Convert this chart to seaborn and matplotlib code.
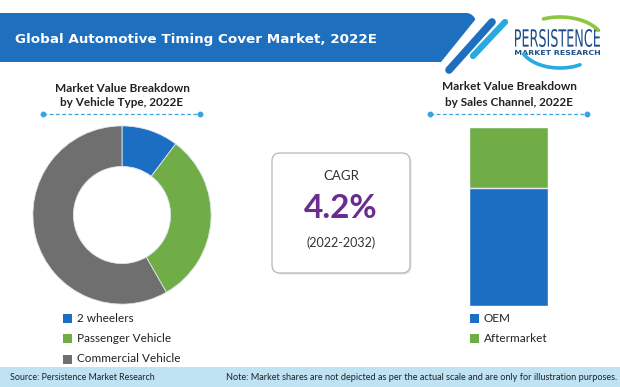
import matplotlib
matplotlib.use("Agg")
import matplotlib.pyplot as plt
import seaborn as sns
import pandas as pd
from matplotlib.patches import Polygon, Rectangle, FancyBboxPatch, PathPatch
from matplotlib.textpath import TextPath
from matplotlib.font_manager import FontProperties
from matplotlib.transforms import Affine2D
import numpy as np

# data
vehicle_types = ["2 wheelers", "Passenger Vehicle", "Commercial Vehicle"]
vehicle_share = [10.3, 31.4, 58.3]
channels = ["OEM", "Aftermarket"]
channel_share = [66, 34]
cagr_text = "4.2%"
cagr_period = "(2022-2032)"

blue = "#1b6ec2"
green = "#70ad47"
gray = "#6f6f6f"
band_blue = "#1f6fbf"
dot_blue = "#3aa3dc"

sns.set_theme(style="white")
plt.rcParams["font.family"] = ["Lato", "DejaVu Sans"]

fig = plt.figure(figsize=(6.2, 3.87), dpi=100)
fig.patch.set_facecolor("white")

# background axes in pixel coordinates
bg = fig.add_axes([0, 0, 1, 1], zorder=0)
bg.set_xlim(0, 620)
bg.set_ylim(387, 0)
bg.axis("off")

# header band
corner = [(466 + 10 * np.sin(t), 23 - 10 * np.cos(t)) for t in np.linspace(0, np.pi / 2.6, 8)]
band_pts = [(-2, 13)] + corner + [(441, 62), (-2, 62)]
bg.add_patch(Polygon(band_pts, closed=True, color=band_blue, lw=0))
bg.plot([449, 492], [70, 22], color=band_blue, lw=5.5, solid_capstyle="round")
bg.plot([473, 505], [56, 22], color="#2aa8e0", lw=4.5, solid_capstyle="round")
bg.text(15, 39, "Global Automotive Timing Cover Market, 2022E", color="white",
        fontsize=9.7, fontweight="bold", family="DejaVu Sans", va="center", ha="left")


# logo
def fit_text(s, x0, x1, y0, y1, color, weight="bold"):
    tp = TextPath((0, 0), s, size=1, prop=FontProperties(family="DejaVu Sans", weight=weight))
    ext = tp.get_extents()
    sx = (x1 - x0) / ext.width
    sy = (y1 - y0) / ext.height
    tr = Affine2D().translate(-ext.x0, -ext.y0).scale(sx, -sy).translate(x0, y1)
    bg.add_patch(PathPatch(tr.transform_path(tp), color=color, lw=0))


fit_text("PERSISTENCE", 515, 600, 29, 47, "#1d4f8c", weight="normal")
fit_text("MARKET RESEARCH", 515, 600, 50, 55, "#1d4f8c")
t = np.linspace(np.radians(112), np.radians(30), 40)
bg.plot(560 + 44 * np.cos(t), 43 - 26 * np.sin(t), color="#8dc63f", lw=2.6, solid_capstyle="round")
t = np.linspace(np.radians(205), np.radians(300), 40)
bg.plot(560 + 40 * np.cos(t), 44 - 24 * np.sin(t), color="#29abe2", lw=2.6, solid_capstyle="round")

# sub titles and dotted rules
bg.text(122, 88, "Market Value Breakdown", ha="center", va="center", fontsize=8.5,
        fontweight="bold", color="#222222")
bg.text(122, 103, "by Vehicle Type, 2022E", ha="center", va="center", fontsize=8.5,
        fontweight="bold", color="#222222")
bg.text(509, 87, "Market Value Breakdown", ha="center", va="center", fontsize=8.5,
        fontweight="bold", color="#222222")
bg.text(509, 103, "by Sales Channel, 2022E", ha="center", va="center", fontsize=8.5,
        fontweight="bold", color="#222222")
for xa, xb in [(43, 200), (430, 587)]:
    bg.plot([xa, xb], [114, 114], ls=(0, (3, 2)), color=dot_blue, lw=0.9)
    bg.plot([xa, xb], [114, 114], ls="none", marker="o", ms=3.2, color=dot_blue)

# legends
for i, (lab, col) in enumerate(zip(vehicle_types, [blue, green, gray])):
    y = 318 + i * 20.5
    bg.add_patch(Rectangle((63, y - 4.5), 9, 9, color=col, lw=0))
    bg.text(77, y, lab, va="center", ha="left", fontsize=8.5, color="#222222")
for i, (lab, col) in enumerate(zip(channels, [blue, green])):
    y = 318 + i * 20
    bg.add_patch(Rectangle((470, y - 4.5), 9, 9, color=col, lw=0))
    bg.text(484, y, lab, va="center", ha="left", fontsize=8.5, color="#222222")

# CAGR box
bg.add_patch(FancyBboxPatch((273.5, 154.5), 138, 120, boxstyle="round,pad=0,rounding_size=8",
                            fc="#d0d0d0", ec="none", alpha=0.6))
bg.add_patch(FancyBboxPatch((272, 153), 138, 120, boxstyle="round,pad=0,rounding_size=8",
                            fc="white", ec="#b8b8b8", lw=0.9))
bg.text(341, 176, "CAGR", ha="center", va="center", fontsize=9.5, color="#333333")
bg.text(341, 208, cagr_text, ha="center", va="center", fontsize=24, fontweight="bold",
        color="#6a2c91")
bg.text(341, 243, cagr_period, ha="center", va="center", fontsize=9, color="#333333")

# footer
bg.add_patch(Rectangle((0, 367), 620, 21, color="#bfe3f3", lw=0))
bg.text(10, 377.5, "Source: Persistence Market Research", va="center", ha="left",
        fontsize=6.4, color="#222222")
bg.text(617, 377.5, "Note: Market shares are not depicted as per the actual scale and are only for illustration purposes.",
        va="center", ha="right", fontsize=6.6, color="#222222")

# donut
ax_pie = fig.add_axes([(122 - 90) / 620, (387 - 215 - 90) / 387, 180 / 620, 180 / 387], zorder=2)
ax_pie.pie(vehicle_share, colors=[blue, green, gray], startangle=90, counterclock=False,
           wedgeprops=dict(width=0.455, edgecolor="#dde8f0", linewidth=0.6))
ax_pie.set_xlim(-1.01, 1.01)
ax_pie.set_ylim(-1.01, 1.01)
ax_pie.axis("off")

# stacked bar
df = pd.DataFrame({"Channel": ["Sales Channel"], "OEM": [channel_share[0]],
                   "Total": [sum(channel_share)]})
ax_bar = fig.add_axes([469 / 620, (387 - 306) / 387, 79 / 620, 179 / 387], zorder=2)
sns.barplot(data=df, x="Channel", y="Total", color=green, saturation=1, width=1, ax=ax_bar)
sns.barplot(data=df, x="Channel", y="OEM", color=blue, saturation=1, width=1, ax=ax_bar)
ax_bar.axhline(channel_share[0], color="#dde8f0", lw=0.6)
ax_bar.set_xlim(-0.5, 0.5)
ax_bar.set_ylim(0, sum(channel_share))
ax_bar.axis("off")

fig.savefig("out.png", dpi=100)
